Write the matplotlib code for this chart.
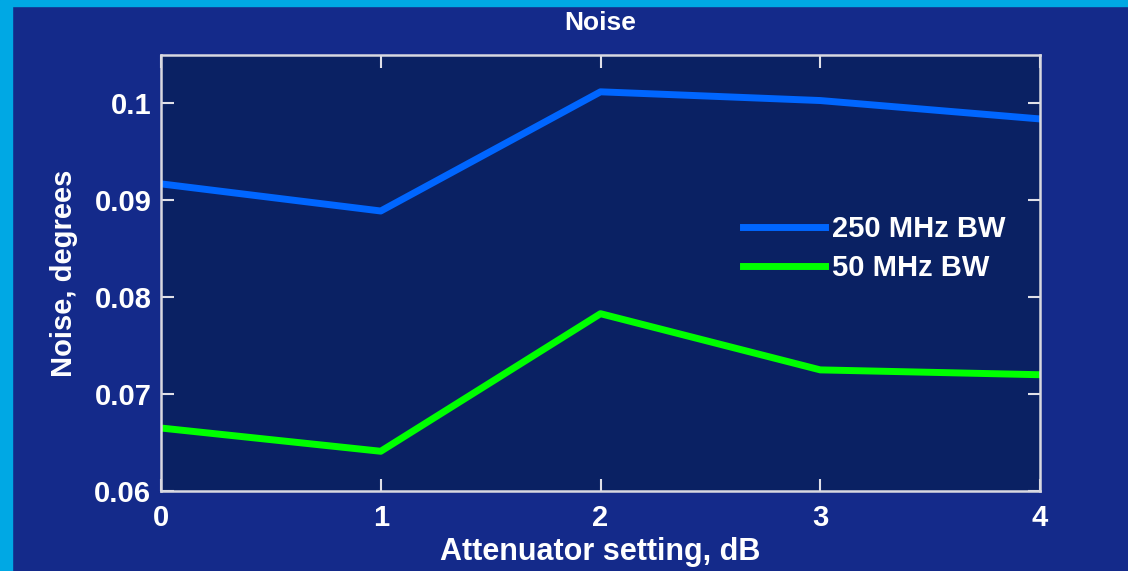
import matplotlib
matplotlib.use('Agg')
import matplotlib.pyplot as plt
from matplotlib.patches import Rectangle

atten_db = [0, 1, 2, 3, 4]
noise_250 = [0.0917, 0.0889, 0.1012, 0.1003, 0.0984]
noise_50 = [0.0665, 0.0641, 0.0783, 0.0725, 0.0720]

plt.rcParams['font.family'] = ['Liberation Sans', 'DejaVu Sans']
plt.rcParams['font.weight'] = 'bold'
plt.rcParams['axes.labelweight'] = 'bold'

fig = plt.figure(figsize=(11.28, 5.71), dpi=100, facecolor='#142a8a')
# cyan frame along the left and top edges
fig.patches.append(Rectangle((0, 0), 12 / 1128, 1, transform=fig.transFigure,
                             color='#00a8e4', zorder=0))
fig.patches.append(Rectangle((0, 1 - 6 / 571), 1, 6 / 571, transform=fig.transFigure,
                             color='#00a8e4', zorder=0))

ax = fig.add_axes([161 / 1128, 1 - 491 / 571, (1040 - 161) / 1128, (491 - 55) / 571])
ax.set_facecolor('#0a2163')

ax.plot(atten_db, noise_250, color='#0066ff', lw=5, label='250 MHz BW')
ax.plot(atten_db, noise_50, color='#00ff00', lw=5, label='50 MHz BW')

ax.set_xlim(0, 4)
ax.set_ylim(0.06, 0.105)
ax.set_xticks([0, 1, 2, 3, 4])
ax.set_yticks([0.06, 0.07, 0.08, 0.09, 0.1])
ax.set_yticklabels(['0.06', '0.07', '0.08', '0.09', '0.1'])
ax.tick_params(direction='in', length=9, width=1.5, colors='#e0e0e8',
               labelcolor='white', labelsize=21, top=True, right=True)
ax.tick_params(axis='x', pad=9)
ax.tick_params(axis='y', pad=7)
for sp in ax.spines.values():
    sp.set_color('#d8d8e0')
    sp.set_linewidth(1.8)

ax.set_title('Noise', color='white', fontsize=19, fontweight='bold', pad=18)
ax.set_xlabel('Attenuator setting, dB', color='white', fontsize=22, labelpad=4)
ax.set_ylabel('Noise, degrees', color='white', fontsize=21, labelpad=12)

leg = ax.legend(loc='center left', bbox_to_anchor=(0.662, 0.556), frameon=False,
                fontsize=21, handlelength=2.8, handletextpad=0.25, labelspacing=0.4,
                borderpad=0, borderaxespad=0)
for t in leg.get_texts():
    t.set_color('white')

fig.savefig('out.png', dpi=100, facecolor=fig.get_facecolor())
